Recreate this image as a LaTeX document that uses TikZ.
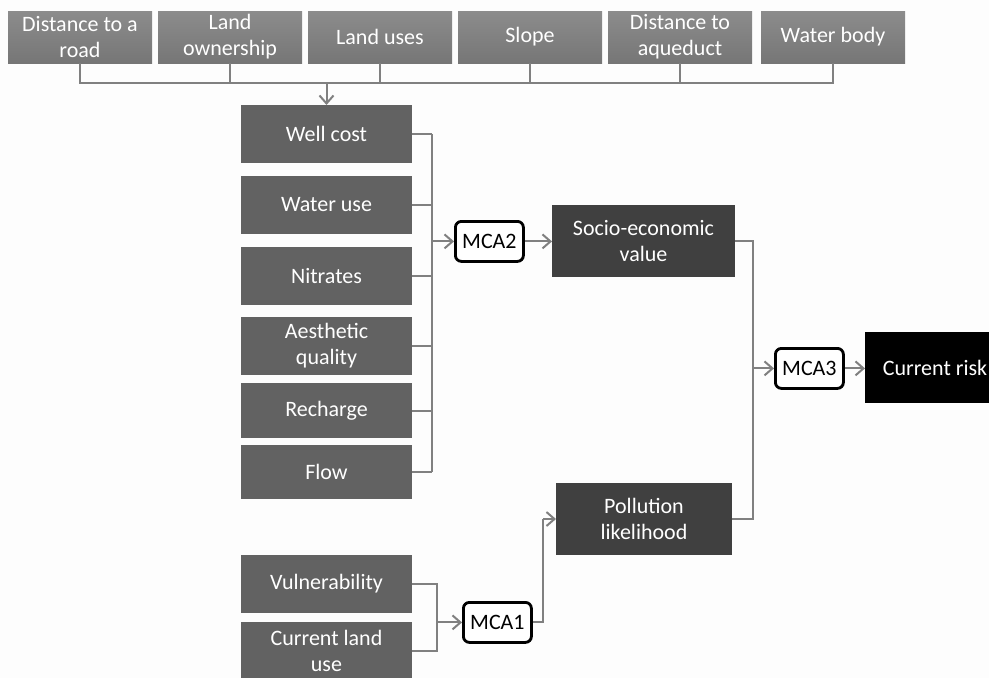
\documentclass[tikz,border=0pt]{standalone}
\usepackage{fontspec}
\setmainfont{Carlito}
\usetikzlibrary{arrows.meta}
\definecolor{conncol}{HTML}{808080}
\definecolor{topcolA}{HTML}{8C8C8C}
\definecolor{topcolB}{HTML}{767676}
\definecolor{leftcol}{HTML}{626262}
\definecolor{midcol}{HTML}{404040}
\definecolor{bgcol}{HTML}{FDFDFD}
\tikzset{
  x=1pt, y=-1pt,
  basebox/.style={anchor=north west, inner sep=0pt, outer sep=0pt, text=white,
    align=center, font=\fontsize{22}{26}\selectfont},
  topbox/.style={basebox, top color=topcolA, bottom color=topcolB, draw=none,
    minimum width=144pt, minimum height=52pt},
  leftbox/.style={basebox, fill=leftcol, minimum width=171pt, minimum height=58pt},
  midbox/.style={basebox, fill=midcol, minimum width=#1, minimum height=72pt},
  riskbox/.style={basebox, fill=black, minimum width=140pt, minimum height=71pt},
  mcabox/.style={anchor=north west, draw=black, line width=2.8pt, fill=white, rounded corners=6pt,
    minimum width=68pt, minimum height=40pt, inner sep=0pt, font=\fontsize{22}{26}\selectfont},
  conn/.style={draw=conncol, line width=2pt},
  arr/.style={conn, -{Straight Barb[length=8pt,width=14pt,line width=2pt]}},
}
\begin{document}
\begin{tikzpicture}
\useasboundingbox (0,0) rectangle (989,678);
\fill[bgcol] (0,0) rectangle (989,678);
\clip (0,0) rectangle (989,678);
% top row
\node[topbox] (t1) at (8,11) {Distance to a\\road};
\node[topbox] (t2) at (158,11) {Land\\ownership};
\node[topbox] (t3) at (308,11) {Land uses};
\node[topbox] (t4) at (458,11) {Slope};
\node[topbox] (t5) at (608,11) {Distance to\\aqueduct};
\node[topbox] (t6) at (761,11) {Water body};
% left column
\node[leftbox] (wc) at (241,105) {Well cost};
\node[leftbox] (wu) at (241,176) {Water use};
\node[leftbox] (ni) at (241,247) {Nitrates};
\node[leftbox] (ae) at (241,317) {Aesthetic\\quality};
\node[leftbox, minimum height=55pt] (re) at (241,383) {Recharge};
\node[leftbox, minimum height=54pt] (fl) at (241,445) {Flow};
\node[leftbox] (vu) at (241,555) {Vulnerability};
\node[leftbox] (cl) at (241,622) {Current land\\use};
% MCA boxes
\node[mcabox] (m2) at (454,220) {MCA2};
\node[mcabox] (m1) at (462,601) {MCA1};
\node[mcabox] (m3) at (774,347) {MCA3};
% mid boxes
\node[midbox=183pt] (se) at (552,205) {Socio-economic\\value};
\node[midbox=176pt] (pl) at (556,483) {Pollution\\likelihood};
\node[riskbox] (cr) at (865,332) {Current risk};
% coordinates
\coordinate (busy) at (0,83);
\coordinate (b2) at (432,0);
\coordinate (b3) at (753,0);
\coordinate (b1) at (437,0);
\coordinate (b4) at (543,0);
% top bus
\draw[conn] (t1.south) -- (t1.south |- busy) -- (t6.south |- busy) -- (t6.south);
\foreach \n in {t2,t3,t4,t5} \draw[conn] (\n.south) -- (\n.south |- busy);
\draw[arr] (wc.north |- busy) -- (wc.north);
% MCA2 bus
\foreach \n in {wc,wu,ni,ae,re,fl} \draw[conn] (\n.east) -- (\n.east -| b2);
\draw[conn] (wc.east -| b2) -- (fl.east -| b2);
\draw[arr] (b2 |- m2.west) -- (m2.west);
\draw[arr] (m2.east) -- (se.west |- m2.east);
% MCA1
\draw[conn] (vu.east) -- (vu.east -| b1) -- (cl.east -| b1) -- (cl.east);
\draw[arr] (b1 |- m1.west) -- (m1.west);
\draw[conn] (m1.east) -- (m1.east -| b4) -- (b4 |- pl.west);
\draw[arr] (b4 |- pl.west) -- (pl.west);
% MCA3
\draw[conn] (se.east) -- (se.east -| b3) -- (pl.east -| b3) -- (pl.east);
\draw[arr] (b3 |- m3.west) -- (m3.west);
\draw[arr] (m3.east) -- (cr.west |- m3.east);
\end{tikzpicture}
\end{document}
